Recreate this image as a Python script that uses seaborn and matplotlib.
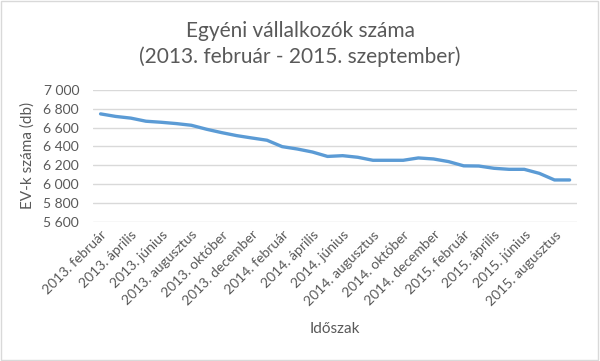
import pandas as pd
import matplotlib.pyplot as plt
import seaborn as sns
from matplotlib.patches import Rectangle
from matplotlib.ticker import FuncFormatter

# Havi adatok
honapok = ["február", "március", "április", "május", "június", "július",
           "augusztus", "szeptember", "október", "november", "december", "január"]
periods = []
ev = 2013
for i in range(32):
    h = honapok[i % 12]
    if h == "január":
        ev += 1
    periods.append(f"{ev}. {h}")

ev_szam = [6745, 6718, 6700, 6667, 6656, 6642, 6624, 6582, 6546, 6514,
           6489, 6465, 6397, 6372, 6340, 6293, 6301, 6284, 6252, 6252,
           6252, 6277, 6266, 6238, 6193, 6191, 6167, 6156, 6156, 6113,
           6043, 6043]

df = pd.DataFrame({"idx": range(len(periods)), "Időszak": periods, "EV": ev_szam})

sns.set_style("white")
plt.rcParams['font.family'] = ['Lato', 'DejaVu Sans']
gray = "#595959"

fig = plt.figure(figsize=(6, 3.61), dpi=100)
ax = fig.add_axes([0.155, 0.386, 0.807, 0.365])

sns.lineplot(data=df, x="idx", y="EV", color="#5B9BD5", linewidth=2.4, ax=ax)

ax.set_ylim(5600, 7000)
ax.set_yticks(range(5600, 7001, 200))
ax.yaxis.set_major_formatter(FuncFormatter(lambda v, p: f"{int(v):,}".replace(",", " ")))
ax.set_xlim(-0.5, len(periods) - 0.5)
ax.set_xticks(df["idx"][::2])
ax.set_xticklabels(df["Időszak"][::2], rotation=45, ha="right", rotation_mode="anchor")
ax.tick_params(axis="both", length=0, labelsize=10, colors=gray)
ax.tick_params(axis="x", pad=5)
ax.tick_params(axis="y", pad=10)
ax.grid(axis="y", color="#D9D9D9", linewidth=1)
for s in ax.spines.values():
    s.set_visible(False)

ax.set_xlabel("Időszak", fontsize=11, color=gray, labelpad=10)
ax.set_ylabel("EV-k száma (db)", fontsize=11, color=gray, labelpad=6)
fig.text(0.5, 0.878, "Egyéni vállalkozók száma\n(2013. február - 2015. szeptember)",
         ha="center", va="center", fontsize=15, color=gray, linespacing=1.35)

fig.patches.append(Rectangle((0.002, 0.003), 0.995, 0.993, transform=fig.transFigure,
                             fill=False, edgecolor="#D9D9D9", linewidth=1))

plt.savefig("out.png", dpi=100)
